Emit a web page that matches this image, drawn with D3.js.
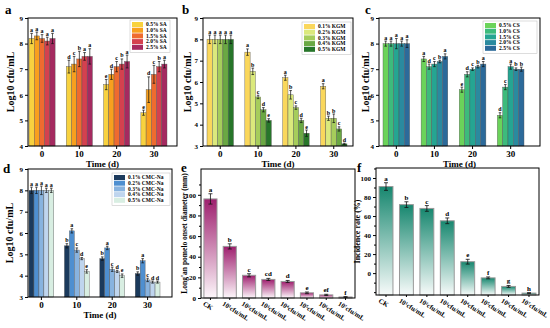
<!DOCTYPE html>
<html>
<head>
<meta charset="utf-8">
<script src="https://cdnjs.cloudflare.com/ajax/libs/d3/7.8.5/d3.min.js"></script>
<style>
body{margin:0;background:#fff}
svg text{font-family:'Liberation Serif','Times New Roman',serif;font-weight:bold}
</style>
</head>
<body>
<div id="fig"></div>
<script>
// ---- data ----
var days = ["0", "10", "20", "30"]

// a: SA
var saNames = ["0.5% SA", "1.0% SA", "1.5% SA", "2.0% SA", "2.5% SA"]
var saValues = [[8.2, 7.1, 6.4, 5.3], [8.3, 7.2, 6.8, 6.2], [8.2, 7.4, 7.1, 6.8], [8.1, 7.5, 7.2, 7.1], [8.2, 7.5, 7.3, 7.2]]
var saErrors = [[0.2, 0.25, 0.2, 0.1], [0.15, 0.3, 0.2, 0.5], [0.15, 0.3, 0.2, 0.35], [0.15, 0.15, 0.2, 0.2], [0.2, 0.3, 0.25, 0.15]]
var saLetters = [["a", "d", "e", "e"], ["a", "c", "d", "d"], ["a", "b", "c", "c"], ["a", "a", "b", "b"], ["a", "a", "a", "a"]]

// b: KGM
var kgmNames = ["0.1% KGM", "0.2% KGM", "0.3% KGM", "0.4% KGM", "0.5% KGM"]
var kgmValues = [[8.0, 7.4, 6.2, 5.8], [8.0, 6.5, 5.4, 4.3], [8.0, 5.3, 4.8, 4.3], [8.0, 4.7, 4.2, 3.8], [8.0, 4.2, 3.6, 3.1]]
var kgmErrors = [[0.2, 0.15, 0.12, 0.12], [0.2, 0.15, 0.2, 0.1], [0.2, 0.08, 0.08, 0.2], [0.2, 0.1, 0.1, 0.1], [0.2, 0.08, 0.15, 0.03]]
var kgmLetters = [["a", "a", "a", "a"], ["a", "b", "b", "b"], ["a", "c", "c", "b"], ["a", "d", "d", "c"], ["a", "e", "e", "d"]]

// c: CS
var csNames = ["0.5% CS", "1.0% CS", "1.5% CS", "2.0% CS", "2.5% CS"]
var csValues = [[8.0, 7.4, 6.2, 5.2], [8.0, 7.1, 6.8, 6.3], [8.0, 7.2, 7.0, 7.1], [8.0, 7.3, 7.1, 7.0], [8.0, 7.5, 7.2, 7.0]]
var csErrors = [[0.1, 0.1, 0.1, 0.1], [0.1, 0.1, 0.1, 0.1], [0.2, 0.1, 0.05, 0.1], [0.1, 0.05, 0.05, 0.05], [0.15, 0.1, 0.1, 0.08]]
var csLetters = [["a", "a", "e", "d"], ["a", "d", "d", "c"], ["a", "c", "c", "a"], ["a", "b", "b", "b"], ["a", "a", "a", "b"]]

// d: CMC-Na
var cmcNames = ["0.1% CMC-Na", "0.2% CMC-Na", "0.3% CMC-Na", "0.4% CMC-Na", "0.5% CMC-Na"]
var cmcValues = [[8.0, 5.4, 4.8, 4.1], [8.0, 6.1, 5.3, 4.7], [8.0, 5.2, 4.3, 3.8], [8.0, 4.8, 4.2, 3.7], [8.0, 4.2, 4.0, 3.7]]
var cmcErrors = [[0.15, 0.1, 0.08, 0.08], [0.15, 0.1, 0.08, 0.1], [0.2, 0.1, 0.1, 0.08], [0.1, 0.05, 0.05, 0.05], [0.1, 0.08, 0.08, 0.05]]
var cmcLetters = [["a", "b", "b", "b"], ["a", "a", "a", "a"], ["a", "c", "c", "c"], ["a", "d", "d", "d"], ["a", "e", "e", "d"]]

// e / f: concentrations
var concLabels = ["CK", "10¹cfu/mL", "10²cfu/mL", "10³cfu/mL", "10⁴cfu/mL", "10⁵cfu/mL", "10⁶cfu/mL", "10⁷cfu/mL"]
var diameter = [96, 50, 22, 18, 16, 5, 3, 1]
var diameterErr = [5, 2.5, 1.5, 1, 1, 0.8, 0.6, 0.3]
var diameterLetters = ["a", "b", "c", "cd", "d", "e", "ef", "f"]
var incidence = [91, 72, 68, 55, 12, -5, -14, -21]
var incidenceErr = [4, 3, 3, 3, 2.5, 1, 1, 0.5]
var incidenceLetters = ["a", "b", "c", "d", "e", "f", "g", "h"]

var svg = d3.select("#fig").append("svg").attr("width", 550).attr("height", 328)
svg.append("rect").attr("width", 550).attr("height", 328).attr("fill", "#fff")

function grouped(p) {
    var g = svg.append("g")
    var x0 = d3.scaleBand().domain(days).range(p.groupRange).paddingInner(0.3)
    var x1 = d3.scaleBand().domain(d3.range(p.names.length)).range([0, x0.bandwidth()])
    var y = d3.scaleLinear().domain(p.yDomain).range([p.bottom, p.top])

    var flat = []
    p.values.forEach((row, s) => row.forEach((v, i) => {
        flat.push({s: s, day: days[i], v: v, e: p.errors[s][i], l: p.letters[s][i]})
    }))
    var cx = d => x0(d.day) + x1(d.s) + x1.bandwidth() / 2

    g.selectAll("rect.bar").data(flat).enter().append("rect")
        .attr("x", d => x0(d.day) + x1(d.s))
        .attr("y", d => y(d.v))
        .attr("width", x1.bandwidth())
        .attr("height", d => p.bottom - y(d.v))
        .attr("fill", d => p.colors[d.s])
        .attr("stroke", "#555").attr("stroke-width", 0.4)

    // error bars
    var eb = g.selectAll("g.err").data(flat).enter().append("g").attr("stroke", "#111").attr("stroke-width", 0.7)
    eb.append("line").attr("x1", cx).attr("x2", cx).attr("y1", d => y(d.v - d.e)).attr("y2", d => y(d.v + d.e))
    eb.append("line").attr("x1", d => cx(d) - 1.3).attr("x2", d => cx(d) + 1.3).attr("y1", d => y(d.v + d.e)).attr("y2", d => y(d.v + d.e))
    eb.append("line").attr("x1", d => cx(d) - 1.3).attr("x2", d => cx(d) + 1.3).attr("y1", d => y(d.v - d.e)).attr("y2", d => y(d.v - d.e))

    g.selectAll("text.lt").data(flat).enter().append("text")
        .attr("x", cx).attr("y", d => y(d.v + d.e) - 1.5)
        .attr("text-anchor", "middle").attr("font-size", 6).attr("font-weight", "normal")
        .text(d => d.l)

    // axes
    g.append("g").attr("transform", `translate(${p.left},0)`)
        .call(d3.axisLeft(y).ticks(p.yDomain[1] - p.yDomain[0]).tickSize(3).tickPadding(2).tickFormat(d3.format("d")))
        .call(a => a.select(".domain").remove())
        .attr("font-size", 7)
    g.append("g").attr("transform", `translate(0,${p.bottom})`)
        .call(d3.axisBottom(x0).tickSize(3).tickPadding(1.5))
        .call(a => a.select(".domain").remove())
        .attr("font-size", 9)
    g.append("rect").attr("x", p.left).attr("y", p.top)
        .attr("width", p.right - p.left).attr("height", p.bottom - p.top)
        .attr("fill", "none").attr("stroke", "#000").attr("stroke-width", 1)

    g.append("text").attr("transform", `translate(${p.titleX},${(p.top + p.bottom) / 2}) rotate(-90)`)
        .attr("text-anchor", "middle").attr("font-size", 10).text("Log10 cfu/mL")
    g.append("text").attr("x", (p.left + p.right) / 2).attr("y", p.bottom + p.timeDy)
        .attr("text-anchor", "middle").attr("font-size", 9).text("Time (d)")
    g.append("text").attr("x", p.tag[0]).attr("y", p.tag[1]).attr("font-size", 13).text(p.tagText)

    // legend
    var L = p.legend
    g.append("rect").attr("x", L.x).attr("y", L.y).attr("width", L.w).attr("height", p.names.length * 5.7 + 4)
        .attr("fill", "#fff").attr("stroke", "#bbb").attr("stroke-width", 0.5)
    var rows = g.selectAll("g.leg").data(p.names).enter().append("g")
        .attr("transform", (d, i) => `translate(${L.x + 2},${L.y + 2 + i * 5.7})`)
    rows.append("rect").attr("width", 11).attr("height", 5).attr("fill", (d, i) => p.colors[i])
    rows.append("text").attr("x", 14).attr("y", 4.3).attr("font-size", 5.5).text(d => d)
}

grouped({names: saNames, values: saValues, errors: saErrors, letters: saLetters,
    colors: ["#f8d23f", "#f8a01e", "#ef6b2f", "#d4414f", "#a52a60"],
    yDomain: [4, 9], left: 28, right: 177, top: 18, bottom: 146, groupRange: [29, 167], timeDy: 21,
    titleX: 14, tag: [5, 14], tagText: "a", legend: {x: 130, y: 20, w: 40}})

grouped({names: kgmNames, values: kgmValues, errors: kgmErrors, letters: kgmLetters,
    colors: ["#fad75c", "#dbe97c", "#a6cd5b", "#6aa843", "#27762a"],
    yDomain: [3, 9], left: 203, right: 353, top: 18, bottom: 146, groupRange: [207, 347], timeDy: 21,
    titleX: 191, tag: [182, 14], tagText: "b", legend: {x: 302, y: 22, w: 49}})

grouped({names: csNames, values: csValues, errors: csErrors, letters: csLetters,
    colors: ["#6bd35a", "#3dbb7c", "#25a592", "#2a8a9f", "#2c6a9a"],
    yDomain: [4, 9], left: 379, right: 540, top: 18, bottom: 146, groupRange: [383, 524], timeDy: 21,
    titleX: 369, tag: [365, 14], tagText: "c", legend: {x: 483, y: 21, w: 54}})

grouped({names: cmcNames, values: cmcValues, errors: cmcErrors, letters: cmcLetters,
    colors: ["#1b3a5c", "#4e8fd0", "#88b3df", "#bfd5ee", "#d8eee2"],
    yDomain: [3, 9], left: 28, right: 172, top: 169, bottom: 297, groupRange: [29, 160], timeDy: 21,
    titleX: 13, tag: [3, 173], tagText: "d", legend: {x: 112, y: 173, w: 58}})

// gradients
var defs = svg.append("defs")
function grad(id, top, bot) {
    var lg = defs.append("linearGradient").attr("id", id).attr("x1", 0).attr("y1", 0).attr("x2", 0).attr("y2", 1)
    lg.append("stop").attr("offset", "0%").attr("stop-color", top)
    lg.append("stop").attr("offset", "100%").attr("stop-color", bot)
}
grad("gE", "#9e1f6e", "#fdf7fb")
grad("gF", "#17876f", "#f7fbfa")

function single(p) {
    var g = svg.append("g")
    var x = d3.scaleBand().domain(concLabels).range([p.left, p.right]).paddingInner(0.32).paddingOuter(0.15)
    var y = d3.scaleLinear().domain(p.yDomain).range([p.bottom, p.top])
    var data = p.values.map((v, i) => ({k: concLabels[i], v: v, e: p.errors[i], l: p.letters[i]}))
    var cx = d => x(d.k) + x.bandwidth() / 2

    g.selectAll("rect.bar").data(data).enter().append("rect")
        .attr("x", d => x(d.k)).attr("y", d => y(d.v))
        .attr("width", x.bandwidth()).attr("height", d => p.bottom - y(d.v))
        .attr("fill", `url(#${p.grad})`).attr("stroke", "#999").attr("stroke-width", 1)

    var eb = g.selectAll("g.err").data(data).enter().append("g").attr("stroke", "#111").attr("stroke-width", 0.8)
    eb.append("line").attr("x1", cx).attr("x2", cx).attr("y1", d => y(d.v - d.e)).attr("y2", d => y(d.v + d.e))
    eb.append("line").attr("x1", d => cx(d) - 2).attr("x2", d => cx(d) + 2).attr("y1", d => y(d.v + d.e)).attr("y2", d => y(d.v + d.e))
    eb.append("line").attr("x1", d => cx(d) - 2).attr("x2", d => cx(d) + 2).attr("y1", d => y(d.v - d.e)).attr("y2", d => y(d.v - d.e))

    g.selectAll("text.lt").data(data).enter().append("text")
        .attr("x", cx).attr("y", d => y(d.v + d.e) - 2)
        .attr("text-anchor", "middle").attr("font-size", 7).attr("font-weight", "normal")
        .text(d => d.l)

    g.append("g").attr("transform", `translate(${p.left},0)`)
        .call(d3.axisLeft(y).tickValues(d3.range(0, 101, 20)).tickSize(3).tickPadding(2))
        .call(a => a.select(".domain").remove())
        .attr("font-size", 7)
    g.append("g").attr("transform", `translate(${p.left},0)`)
        .call(d3.axisLeft(y).tickValues(p.minor).tickSize(2).tickFormat(""))
        .call(a => a.select(".domain").remove())
    g.append("g").attr("transform", `translate(0,${p.bottom})`)
        .call(d3.axisBottom(x).tickSize(2).tickFormat(""))
        .call(a => a.select(".domain").remove())
    g.append("rect").attr("x", p.left).attr("y", p.top)
        .attr("width", p.right - p.left).attr("height", p.bottom - p.top)
        .attr("fill", "none").attr("stroke", "#000").attr("stroke-width", 1)

    g.selectAll("text.xl").data(concLabels).enter().append("text")
        .attr("transform", d => `translate(${x(d) + x.bandwidth() / 2 - 8},${p.bottom + 7}) rotate(32)`)
        .attr("font-size", 6.8).text(d => d)

    g.append("text").attr("transform", `translate(${p.titleX},${(p.top + p.bottom) / 2}) rotate(-90)`)
        .attr("text-anchor", "middle").attr("font-size", p.titleSize).text(p.title)
    g.append("text").attr("x", p.tag[0]).attr("y", p.tag[1]).attr("font-size", 13).text(p.tagText)
}

single({values: diameter, errors: diameterErr, letters: diameterLetters, grad: "gE",
    yDomain: [0, 125], left: 201, right: 355, top: 169, bottom: 298,
    minor: d3.range(10, 121, 20), title: "Long'an pomelo onset diameter (mm)", titleSize: 7.5,
    titleX: 187, tag: [181, 172], tagText: "e"})

single({values: incidence, errors: incidenceErr, letters: incidenceLetters, grad: "gF",
    yDomain: [-23, 110.5], left: 376, right: 539, top: 168, bottom: 295,
    minor: [-20, -10, 10, 30, 50, 70, 90, 110], title: "Incidence rate (%)", titleSize: 8,
    titleX: 360, tag: [357, 172], tagText: "f"})
</script>
</body>
</html>
